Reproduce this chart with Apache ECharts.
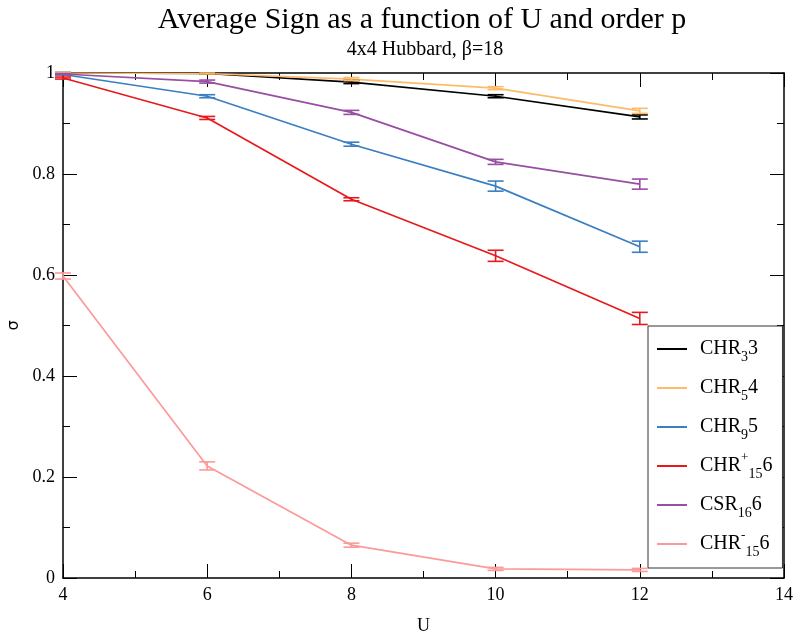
<!DOCTYPE html>
<html>
<head>
<meta charset="utf-8">
<script src="https://cdn.jsdelivr.net/npm/echarts@6/dist/echarts.min.js"></script>
<style>
html,body{margin:0;padding:0;background:#fff;}
#main{width:796px;height:639px;}
</style>
</head>
<body>
<div id="main"></div>
<script>
// U values
var uVals = [4, 6, 8, 10, 12];
var names = ['CHR3 3', 'CHR5 4', 'CHR9 5', 'CHR+15 6', 'CSR16 6', 'CHR-15 6'];
var colors = ['#000000', '#fdbb6a', '#3a7fc1', '#e8191c', '#984ea3', '#fb9a99'];
// average sign per series
var chr3 = [1.000, 0.999, 0.982, 0.954, 0.913];
var chr5 = [1.000, 0.999, 0.988, 0.970, 0.925];
var chr9 = [0.997, 0.954, 0.859, 0.776, 0.656];
var chr15p = [0.990, 0.911, 0.750, 0.638, 0.514];
var csr16 = [0.998, 0.983, 0.922, 0.824, 0.780];
var chr15m = [0.598, 0.222, 0.065, 0.018, 0.016];
// error bars (half width)
var err3 = [0.001, 0.001, 0.003, 0.003, 0.004];
var err5 = [0.001, 0.001, 0.003, 0.003, 0.005];
var err9 = [0.001, 0.003, 0.004, 0.010, 0.011];
var err15p = [0.002, 0.003, 0.003, 0.011, 0.012];
var errS16 = [0.001, 0.003, 0.004, 0.005, 0.010];
var err15m = [0.006, 0.008, 0.004, 0.003, 0.003];

var values = [chr3, chr5, chr9, chr15p, csr16, chr15m];
var errors = [err3, err5, err9, err15p, errS16, err15m];
var legendText = {
    'CHR3 3': 'CHR{sub|3}3',
    'CHR5 4': 'CHR{sub|5}4',
    'CHR9 5': 'CHR{sub|9}5',
    'CHR+15 6': 'CHR{sup|+}{sub|15}6',
    'CSR16 6': 'CSR{sub|16}6',
    'CHR-15 6': 'CHR{sup|-}{sub|15}6'
};

var chart = echarts.init(document.getElementById('main'));

function errRender(color){
    return function(params, api){
        var x = api.value(0), y = api.value(1), e = api.value(2);
        var hi = api.coord([x, y + e]);
        var lo = api.coord([x, y - e]);
        var st = {stroke: color, lineWidth: 1.6};
        return {
            type: 'group',
            children: [
                {type: 'line', shape: {x1: hi[0], y1: hi[1], x2: lo[0], y2: lo[1]}, style: st},
                {type: 'line', shape: {x1: hi[0] - 8, y1: hi[1], x2: hi[0] + 8, y2: hi[1]}, style: st},
                {type: 'line', shape: {x1: lo[0] - 8, y1: lo[1], x2: lo[0] + 8, y2: lo[1]}, style: st}
            ]
        };
    };
}

var series = [];
for (var i = 0; i < names.length; i++) {
    var lineData = [], errData = [];
    for (var j = 0; j < uVals.length; j++) {
        lineData.push([uVals[j], values[i][j]]);
        errData.push([uVals[j], values[i][j], errors[i][j]]);
    }
    series.push({
        name: names[i],
        type: 'line',
        data: lineData,
        symbol: 'none',
        color: colors[i],
        lineStyle: {width: 1.7, color: colors[i]},
        z: 3
    });
    series.push({
        type: 'custom',
        data: errData,
        renderItem: errRender(colors[i]),
        z: 4,
        silent: true
    });
}

var tickFont = {fontFamily: 'Liberation Serif', fontSize: 18, color: '#000'};

option = {
    animation: false,
    backgroundColor: '#fff',
    title: [{
        text: 'Average Sign as a function of U and order p',
        left: 417,
        textAlign: 'center',
        top: 0,
        textStyle: {fontFamily: 'Liberation Serif', fontSize: 30, fontWeight: 'normal', color: '#000'}
    }, {
        text: '4x4 Hubbard, β=18',
        left: 420,
        textAlign: 'center',
        top: 35,
        textStyle: {fontFamily: 'Liberation Serif', fontSize: 20, fontWeight: 'normal', color: '#000'}
    }],
    grid: {left: 63, right: 12, top: 73, bottom: 61, containLabel: false, outerBoundsMode: 'none'},
    legend: {
        orient: 'vertical',
        left: 648,
        top: 326,
        data: names,
        icon: 'rect',
        itemWidth: 30,
        itemHeight: 2,
        itemGap: 9,
        padding: [8, 10, 9, 9],
        backgroundColor: '#fff',
        borderColor: '#333',
        borderWidth: 1,
        borderRadius: 0,
        formatter: function(name){ return legendText[name]; },
        textStyle: {
            fontFamily: 'Liberation Serif', fontSize: 20, color: '#000', lineHeight: 30,
            padding: [0, 0, 0, 8],
            rich: {
                sub: {fontFamily: 'Liberation Serif', fontSize: 14, color: '#000', lineHeight: 14, verticalAlign: 'bottom'},
                sup: {fontFamily: 'Liberation Serif', fontSize: 13, color: '#000', lineHeight: 14, verticalAlign: 'top'}
            }
        }
    },
    xAxis: [{
        type: 'value',
        min: 4, max: 14, interval: 2,
        name: 'U',
        nameLocation: 'middle',
        nameGap: 39,
        nameTextStyle: {fontFamily: 'Liberation Serif', fontSize: 18, color: '#000'},
        axisLine: {onZero: false, lineStyle: {color: '#000', width: 1.5}},
        axisTick: {inside: true, length: 14, lineStyle: {color: '#000'}},
        minorTick: {show: true, splitNumber: 2, length: 7, lineStyle: {color: '#000'}},
        axisLabel: Object.assign({margin: 8}, tickFont),
        splitLine: {show: false}
    }, {
        type: 'value',
        position: 'top',
        min: 4, max: 14, interval: 2,
        axisLine: {onZero: false, lineStyle: {color: '#000', width: 1.5}},
        axisTick: {inside: true, length: 14, lineStyle: {color: '#000'}},
        minorTick: {show: true, splitNumber: 2, length: 7, lineStyle: {color: '#000'}},
        axisLabel: {show: false},
        splitLine: {show: false}
    }],
    yAxis: [{
        type: 'value',
        min: 0, max: 1, interval: 0.2,
        name: 'σ',
        nameLocation: 'middle',
        nameGap: 41,
        nameTextStyle: {fontFamily: 'DejaVu Sans', fontSize: 16, color: '#000'},
        axisLine: {onZero: false, lineStyle: {color: '#000', width: 1.5}},
        axisTick: {inside: true, length: 14, lineStyle: {color: '#000'}},
        minorTick: {show: true, splitNumber: 2, length: 7, lineStyle: {color: '#000'}},
        axisLabel: Object.assign({margin: 8}, tickFont),
        splitLine: {show: false}
    }, {
        type: 'value',
        position: 'right',
        min: 0, max: 1, interval: 0.2,
        axisLine: {onZero: false, lineStyle: {color: '#000', width: 1.5}},
        axisTick: {inside: true, length: 14, lineStyle: {color: '#000'}},
        minorTick: {show: true, splitNumber: 2, length: 7, lineStyle: {color: '#000'}},
        axisLabel: {show: false},
        splitLine: {show: false}
    }],
    series: series
};

chart.setOption(option);
</script>
</body>
</html>
